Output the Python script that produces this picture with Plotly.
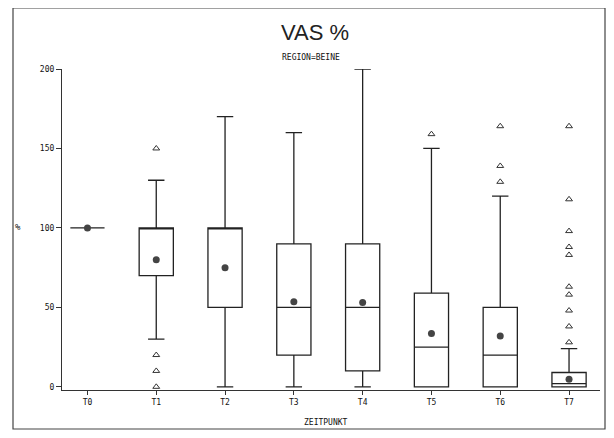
import plotly.graph_objects as go

categories = ["T0", "T1", "T2", "T3", "T4", "T5", "T6", "T7"]
q1 = [100, 70, 50, 20, 10, 0, 0, 0]
median = [100, 100, 100, 50, 50, 25, 20, 2]
q3 = [100, 100, 100, 90, 90, 59, 50, 9]
lower_whisker = [100, 30, 0, 0, 0, 0, 0, 0]
upper_whisker = [100, 130, 170, 160, 200, 150, 120, 24]
means = [100, 80, 75, 53.5, 53, 33.6, 32, 4.8]
outliers = {
    "T1": [150, 20, 10, 0],
    "T5": [159],
    "T6": [164, 139, 129],
    "T7": [164, 118, 98, 88, 83, 63, 58, 48, 38, 28],
}
y_ticks = [0, 50, 100, 150, 200]

fig = go.Figure()
fig.add_trace(go.Box(
    x=categories, q1=q1, median=median, q3=q3,
    lowerfence=lower_whisker, upperfence=upper_whisker,
    boxpoints=False, fillcolor="rgba(255,255,255,0)",
    line=dict(color="#222", width=1.3), whiskerwidth=0.48,
    showlegend=False, hoverinfo="skip",
))
ox, oy = [], []
for c, vals in outliers.items():
    for v in vals:
        ox.append(c)
        oy.append(v)
fig.add_trace(go.Scatter(
    x=ox, y=oy, mode="markers", showlegend=False,
    marker=dict(symbol="triangle-up-open", size=6, color="#333", line=dict(width=1)),
))
fig.add_trace(go.Scatter(
    x=categories, y=means, mode="markers", showlegend=False,
    marker=dict(symbol="circle", size=7, color="#444"),
))

# page body has an 8px margin; figure occupies screen px 8..606 x 8..430
OFF = 8
W, H = 598, 422
L, R, T, B = 54, 6, 61, 40
pw, ph = W - L - R, H - T - B

def px_x(p):
    return (p - OFF - L) / pw

def px_y(p):
    return (H - B - (p - OFF)) / ph

fig.update_layout(
    width=W, height=H,
    margin=dict(l=L, r=R, t=T, b=B),
    paper_bgcolor="white", plot_bgcolor="white",
    boxgap=0.29,
    font=dict(family="DejaVu Sans Mono", size=8, color="#111"),
    xaxis=dict(
        type="category", range=[-0.37, 7.45],
        showline=True, linecolor="#333", linewidth=1.2,
        ticks="outside", ticklen=4, tickcolor="#333",
        showgrid=False, zeroline=False,
        tickfont=dict(family="DejaVu Sans Mono", size=8, color="#111"),
    ),
    yaxis=dict(
        range=[-2, 200], tickvals=y_ticks,
        showline=True, linecolor="#333", linewidth=1.2,
        ticks="outside", ticklen=5, tickcolor="#333",
        showgrid=False, zeroline=False,
        tickfont=dict(family="DejaVu Sans Mono", size=8, color="#111"),
    ),
    annotations=[
        dict(text="VAS %", xref="paper", yref="paper", x=px_x(315), y=px_y(33),
             showarrow=False, font=dict(family="Liberation Sans", size=22, color="#222"),
             xanchor="center", yanchor="middle"),
        dict(text="REGION=BEINE", xref="paper", yref="paper", x=px_x(311), y=px_y(57),
             showarrow=False, font=dict(family="DejaVu Sans Mono", size=8, color="#111"),
             xanchor="center", yanchor="middle"),
        dict(text="%", xref="paper", yref="paper", x=px_x(18), y=px_y(227),
             showarrow=False, font=dict(family="DejaVu Sans Mono", size=9, color="#111"),
             xanchor="center", yanchor="middle"),
        dict(text="ZEITPUNKT", xref="paper", yref="paper", x=px_x(326), y=px_y(422),
             showarrow=False, font=dict(family="DejaVu Sans Mono", size=8, color="#111"),
             xanchor="center", yanchor="middle"),
    ],
    shapes=[
        dict(type="rect", xref="paper", yref="paper",
             x0=px_x(13), x1=px_x(605), y0=px_y(429), y1=px_y(8),
             line=dict(color="#444", width=1.2), fillcolor="rgba(0,0,0,0)", layer="below"),
    ],
)

fig.write_html("out.html")
